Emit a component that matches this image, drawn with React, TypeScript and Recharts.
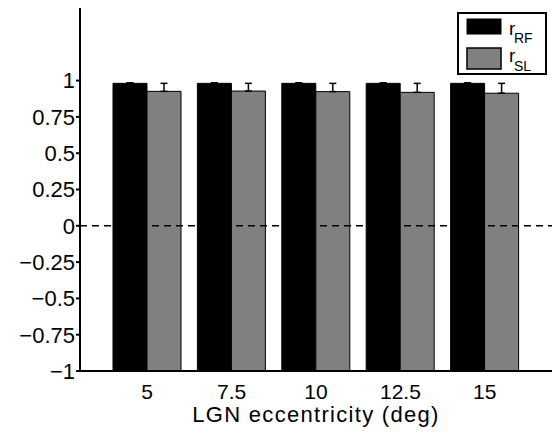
import { BarChart, Bar, XAxis, YAxis, ErrorBar, ReferenceLine, Label, Rectangle } from "recharts"

// LGN eccentricity (deg)
const eccentricities = ["5", "7.5", "10", "12.5", "15"]

// r_RF (black) and r_SL (gray) with upper error
const rRF = [0.981, 0.981, 0.981, 0.981, 0.981]
const rRFErr = [0.004, 0.004, 0.004, 0.004, 0.004]
const rSL = [0.926, 0.928, 0.924, 0.919, 0.913]
const rSLErr = [0.055, 0.053, 0.057, 0.062, 0.068]

const yTicks = [-1, -0.75, -0.5, -0.25, 0, 0.25, 0.5, 0.75, 1]

const series = [
  { key: "rf", sub: "RF", fill: "#000000" },
  { key: "sl", sub: "SL", fill: "#808080" },
]

const data = eccentricities.map((ecc, i) => ({
  ecc,
  rf: rRF[i],
  rfErr: [0, rRFErr[i]],
  sl: rSL[i],
  slErr: [0, rSLErr[i]],
}))

const font = "'Liberation Sans', Arial, Helvetica, sans-serif"

const fmt = (v: number) => (v < 0 ? "\u2212" + Math.abs(v) : String(v))

// matlab bars start at the bottom of the axes, not at zero
const FloorBar = (props: any) => {
  const { x, y, width, background, fill } = props
  const bottom = background ? background.y + background.height : y + props.height
  return <Rectangle x={x} y={y} width={width} height={bottom - y} fill={fill} stroke="#000" strokeWidth={1} />
}

const LegendBox = () => (
  <svg width={90} height={63} style={{ position: "absolute", left: 457, top: 12 }}>
    <rect x={1} y={1} width={88} height={61} fill="#fff" stroke="#000" strokeWidth={2} />
    <rect x={10} y={7} width={34} height={15} fill={series[0].fill} stroke="#000" />
    <rect x={10} y={36} width={34} height={21} fill={series[1].fill} stroke="#000" strokeWidth={1.5} />
    {series.map((s, i) => (
      <g key={s.key} fontFamily={font} fill="#000">
        <text x={52} y={i === 0 ? 23 : 50} fontSize={19}>r</text>
        <text x={57} y={i === 0 ? 31 : 59} fontSize={14}>{s.sub}</text>
      </g>
    ))}
  </svg>
)

export default function App() {
  return (
    <div style={{ position: "absolute", left: 0, top: 0, width: 552, height: 435 }}>
      <BarChart
        width={552}
        height={435}
        data={data}
        margin={{ top: 8, right: 0, bottom: 0, left: 0 }}
        barGap={0}
        style={{ fontFamily: font }}
      >
        <ReferenceLine y={0} stroke="#000" strokeWidth={1.5} strokeDasharray="7 5" />
        <XAxis
          dataKey="ecc"
          height={64}
          padding={{ left: 25, right: 25 }}
          tickLine={false}
          tickSize={0}
          tickMargin={13}
          axisLine={{ stroke: "#000", strokeWidth: 2 }}
          tick={{ fill: "#000", fontSize: 21 }}
        >
          <Label
            value="LGN eccentricity (deg)"
            position="insideBottom"
            offset={13}
            style={{ fill: "#000", fontSize: 22, letterSpacing: 1.3 }}
          />
        </XAxis>
        <YAxis
          type="number"
          domain={[-1, 1.5]}
          ticks={yTicks}
          width={80}
          tickSize={4}
          tickMargin={1}
          tickFormatter={fmt}
          axisLine={{ stroke: "#000", strokeWidth: 2 }}
          tickLine={{ stroke: "#000", strokeWidth: 2 }}
          tick={{ fill: "#000", fontSize: 22 }}
          allowDataOverflow
        />
        {series.map((s) => (
          <Bar
            key={s.key}
            dataKey={s.key}
            name={"r" + s.sub}
            fill={s.fill}
            barSize={34}
            shape={FloorBar}
            isAnimationActive={false}
          >
            <ErrorBar dataKey={s.key + "Err"} width={3.5} stroke="#000" strokeWidth={1.5} />
          </Bar>
        ))}
      </BarChart>
      <LegendBox />
    </div>
  )
}
